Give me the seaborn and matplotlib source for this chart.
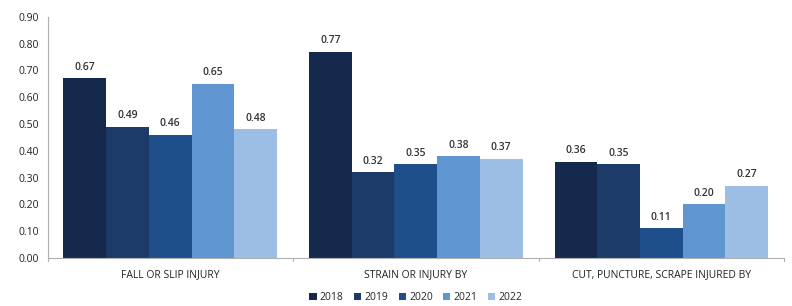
import pandas as pd
import seaborn as sns
import matplotlib.pyplot as plt

# Injury categories and rates per year
categories = ['FALL OR SLIP INJURY', 'STRAIN OR INJURY BY', 'CUT, PUNCTURE, SCRAPE INJURED BY']
years = ['2018', '2019', '2020', '2021', '2022']
rates_2018 = [0.67, 0.77, 0.36]
rates_2019 = [0.49, 0.32, 0.35]
rates_2020 = [0.46, 0.35, 0.11]
rates_2021 = [0.65, 0.38, 0.20]
rates_2022 = [0.48, 0.37, 0.27]

year_colors = ['#14294b', '#1d3b68', '#1f4f8a', '#5f95d1', '#9cbde4']

# Long format table for seaborn
all_rates = [rates_2018, rates_2019, rates_2020, rates_2021, rates_2022]
rows = []
for year, rates in zip(years, all_rates):
    for cat, r in zip(categories, rates):
        rows.append({'Category': cat, 'Year': year, 'Rate': r})
df = pd.DataFrame(rows)

sns.set_style('white')
plt.rcParams['font.family'] = ['Open Sans', 'DejaVu Sans']

fig, ax = plt.subplots(figsize=(7.92, 3.06), dpi=100)
sns.barplot(data=df, x='Category', y='Rate', hue='Year', palette=year_colors,
            width=0.87, gap=0, saturation=1, linewidth=0, ax=ax, legend=True)

# Value labels above bars
for container in ax.containers:
    ax.bar_label(container, fmt='%.2f', padding=4, fontsize=7.5,
                 fontweight='semibold', color='#333333')

ax.set_ylim(0, 0.90)
ax.set_yticks([i / 10 for i in range(10)])
ax.set_yticklabels([f'{i / 10:.2f}' for i in range(10)], fontsize=7.5,
                   color='#222222')
ax.set_xlim(-0.5, 2.5)
ax.set_xlabel('')
ax.set_ylabel('')
ax.tick_params(axis='x', labelsize=7.5, length=0, pad=8, colors='#222222')
ax.tick_params(axis='y', length=3, color='#aaaaaa', pad=3)

for s in ['top', 'right']:
    ax.spines[s].set_visible(False)
for s in ['left', 'bottom']:
    ax.spines[s].set_color('#b0b0b0')
    ax.spines[s].set_linewidth(0.8)

# small boundary ticks between categories
for xb in [-0.5, 0.5, 1.5, 2.5]:
    ax.plot([xb, xb], [0, -0.012], color='#b0b0b0', lw=0.8, clip_on=False)

leg = ax.legend(loc='center', bbox_to_anchor=(0.5, -0.165), ncol=5,
                frameon=False, fontsize=7.5, handlelength=0.7, handleheight=0.7,
                handletextpad=0.3, columnspacing=1.0)

plt.subplots_adjust(left=0.06, right=0.99, top=0.945, bottom=0.157)
fig.savefig('out.png', dpi=100)
